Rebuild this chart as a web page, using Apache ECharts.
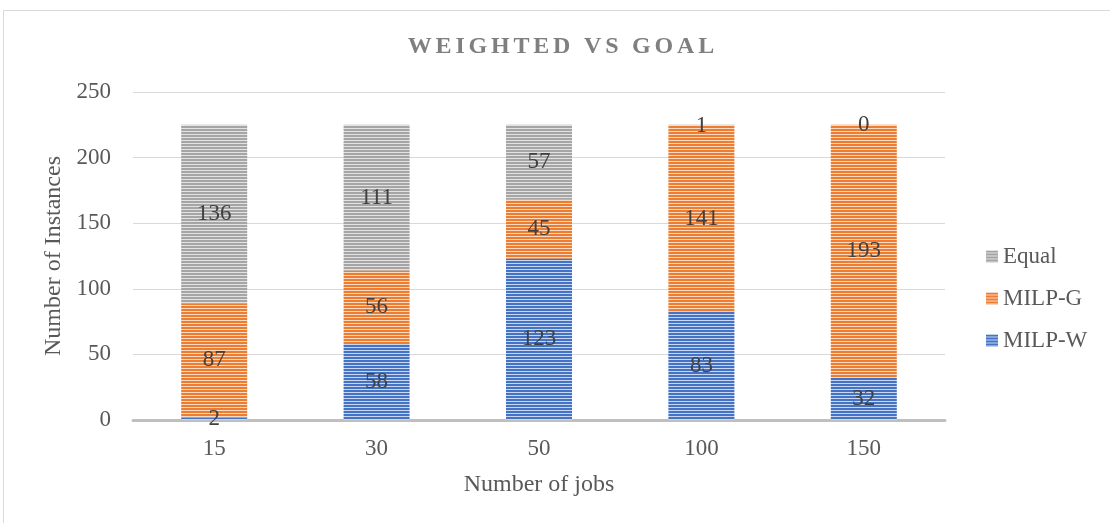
<!DOCTYPE html>
<html>
<head>
<meta charset="utf-8">
<script src="https://cdn.jsdelivr.net/npm/echarts@6/dist/echarts.min.js"></script>
<style>
  html, body { margin: 0; padding: 0; background: #fff; }
  #chart { width: 1110px; height: 523px; }
</style>
</head>
<body>
<div id="chart"></div>
<script>
// Chart data
const chartTitle = 'WEIGHTED VS GOAL';
const jobCounts = ['15', '30', '50', '100', '150'];
const milpW = [2, 58, 123, 83, 32];
const milpG = [87, 56, 45, 141, 193];
const equalCounts = [136, 111, 57, 1, 0];
const yTicks = [0, 50, 100, 150, 200, 250];

// Horizontal striped fill: solid colour with a pale line every 3px
function stripes(color, light) {
  const c = document.createElement('canvas');
  c.width = 8; c.height = 3;
  const ctx = c.getContext('2d');
  ctx.fillStyle = color;
  ctx.fillRect(0, 0, 8, 3);
  ctx.fillStyle = light;
  ctx.fillRect(0, 2, 8, 1);
  return { image: c, repeat: 'repeat' };
}

const blueFill = stripes('#4472C4', '#C9D6EF');
const orangeFill = stripes('#ED7D31', '#FAD9C3');
const grayFill = stripes('#A5A5A5', '#E2E2E2');

const serif = '"Liberation Serif", "Times New Roman", serif';

// Spaced-out title built with rich text tokens
const titleRich = { c: { fontFamily: serif, fontSize: 24, fontWeight: 'bold', color: '#7F7F7F', padding: [0, 1.9] } };
const titleText = chartTitle.split('').map(ch => '{c|' + (ch === ' ' ? '\u00a0' : ch) + '}').join('');

const labelStyle = {
  show: true,
  position: 'inside',
  fontFamily: serif,
  fontSize: 23,
  color: '#404040'
};

const chart = echarts.init(document.getElementById('chart'), null, { renderer: 'canvas' });
chart.setOption({
  animation: false,
  backgroundColor: '#fff',
  graphic: [{
    type: 'rect',
    shape: { x: 3.5, y: 10.5, width: 1120, height: 530 },
    style: { fill: 'none', stroke: '#D9D9D9', lineWidth: 1 },
    silent: true
  }],
  title: {
    text: titleText,
    left: 556,
    textAlign: 'center',
    top: 30,
    textStyle: { rich: titleRich }
  },
  legend: {
    orient: 'vertical',
    left: 981,
    top: 240,
    itemGap: 19,
    itemWidth: 12,
    itemHeight: 12,
    icon: 'rect',
    data: ['Equal', 'MILP-G', 'MILP-W'],
    textStyle: { fontFamily: serif, fontSize: 23, color: '#595959', padding: [0, 0, 0, 0] }
  },
  grid: { left: 133, right: 165, top: 92, bottom: 103, containLabel: false },
  xAxis: {
    type: 'category',
    data: jobCounts,
    name: 'Number of jobs',
    nameLocation: 'middle',
    nameGap: 53,
    nameTextStyle: { fontFamily: serif, fontSize: 24, color: '#595959' },
    axisLine: { lineStyle: { color: '#BFBFBF', width: 3 } },
    axisTick: { show: false },
    axisLabel: { fontFamily: serif, fontSize: 23, color: '#595959', margin: 17 }
  },
  yAxis: {
    type: 'value',
    min: yTicks[0],
    max: yTicks[yTicks.length - 1],
    interval: yTicks[1] - yTicks[0],
    name: 'Number of Instances',
    nameLocation: 'middle',
    nameGap: 65,
    nameTextStyle: { fontFamily: serif, fontSize: 24, color: '#595959' },
    axisLine: { show: false },
    axisTick: { show: false },
    axisLabel: { fontFamily: serif, fontSize: 23, color: '#595959', margin: 22 },
    splitLine: { lineStyle: { color: '#D9D9D9', width: 1 } }
  },
  series: [
    {
      name: 'MILP-W', type: 'bar', stack: 'total', data: milpW,
      barWidth: 66,
      itemStyle: { color: blueFill },
      label: labelStyle
    },
    {
      name: 'MILP-G', type: 'bar', stack: 'total', data: milpG,
      itemStyle: { color: orangeFill },
      label: labelStyle
    },
    {
      name: 'Equal', type: 'bar', stack: 'total', data: equalCounts,
      itemStyle: { color: grayFill },
      label: labelStyle
    }
  ]
});
</script>
</body>
</html>
